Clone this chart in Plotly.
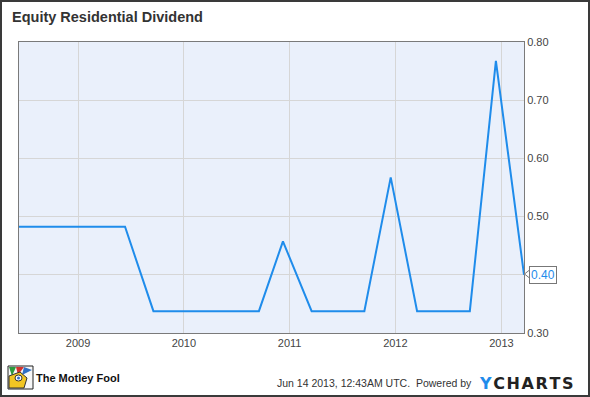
import plotly.graph_objects as go

# Data: quarterly dividend (ex-dividend dates) for Equity Residential
dates = ["2008-03-19", "2008-06-20", "2008-09-19", "2008-12-19", "2009-03-20", "2009-06-12",
         "2009-09-18", "2009-12-18", "2010-03-19", "2010-06-18", "2010-09-17", "2010-12-09",
         "2011-03-18", "2011-06-17", "2011-09-16", "2011-12-16", "2012-03-16", "2012-06-15",
         "2012-09-14", "2012-12-13", "2013-03-20"]
dividends = [0.4825, 0.4825, 0.4825, 0.4825, 0.4825, 0.4825,
             0.3375, 0.3375, 0.3375, 0.3375, 0.3375, 0.4575,
             0.3375, 0.3375, 0.3375, 0.5675, 0.3375, 0.3375,
             0.3375, 0.7675, 0.40]
y_ticks = [0.30, 0.40, 0.50, 0.60, 0.70, 0.80]
# the 0.40 tick label is covered by the last-value flag in the reference
y_tick_labels = ["0.30", "", "0.50", "0.60", "0.70", "0.80"]
title_text = "Equity Residential Dividend"
last_label = "0.40"

W, H = 590, 397
L, R, T, B = 19, 66, 42, 64
PW, PH = W - L - R, H - T - B

def px(x):
    return (x - L) / PW

def py(y):
    return (H - B - y) / PH

LINE = "#1f8ceb"

fig = go.Figure()
fig.add_trace(go.Scatter(x=dates, y=dividends, mode="lines",
                         line=dict(color=LINE, width=2), hoverinfo="skip",
                         showlegend=False))

fig.update_layout(
    width=W, height=H,
    margin=dict(l=L, r=R, t=T, b=B),
    paper_bgcolor="white",
    plot_bgcolor="#eaf0fb",
    font=dict(family="Liberation Sans, Arial, sans-serif", size=11, color="#444"),
    xaxis=dict(type="date", range=["2008-06-11", "2013-03-20"],
               tick0="2009-01-01", dtick="M12", tickformat="%Y",
               showgrid=True, gridcolor="#d6d6d6", gridwidth=1,
               showline=True, linecolor="#7a7a7a", linewidth=1, mirror=True,
               ticks="", zeroline=False, tickfont=dict(size=11, color="#444")),
    yaxis=dict(range=[0.30, 0.80], side="right", tickvals=y_ticks, ticktext=y_tick_labels,
               showgrid=True, gridcolor="#d6d6d6", gridwidth=1,
               showline=True, linecolor="#7a7a7a", linewidth=1, mirror=True,
               ticks="", zeroline=False, tickfont=dict(size=11, color="#444")),
)

hs = "\u200a"
annotations = [
    dict(text="<b>" + title_text + "</b>", xref="paper", yref="paper",
         x=px(10), y=py(17), xanchor="left", yanchor="middle", showarrow=False,
         font=dict(size=14.5, color="#333", family="Liberation Sans, Arial, sans-serif")),
    dict(text=last_label, x=dates[-1], y=dividends[-1], xref="x", yref="y",
         xanchor="left", yanchor="middle", xshift=5, showarrow=False,
         bgcolor="white", bordercolor="#777", borderwidth=1, borderpad=1,
         font=dict(size=12, color=LINE)),
    dict(text="<b>The Motley Fool</b>", xref="paper", yref="paper", x=px(34), y=py(378),
         xanchor="left", yanchor="middle", showarrow=False,
         font=dict(size=11, color="#111", family="Liberation Sans, Arial, sans-serif")),
    dict(text="Jun 14 2013, 12:43AM UTC.  Powered by", xref="paper", yref="paper",
         x=px(474), y=py(383), xanchor="right", yanchor="middle", showarrow=False,
         font=dict(size=10.5, color="#333")),
    dict(text="<b><span style='color:#1f8ceb'>Y</span>" + hs + hs.join("CHARTS") + "</b>",
         xref="paper", yref="paper",
         x=px(477), y=py(383), xanchor="left", yanchor="middle", showarrow=False,
         font=dict(size=16, color="#222", family="DejaVu Sans, sans-serif")),
]
fig.update_layout(annotations=annotations)

shapes = [
    # outer frame
    dict(type="rect", xref="paper", yref="paper", x0=px(1), x1=px(W - 1), y0=py(H - 1), y1=py(1),
         line=dict(color="#3a3a3a", width=2), fillcolor="rgba(0,0,0,0)", layer="above"),
    # motley fool logo approximation
    dict(type="rect", xref="paper", yref="paper", x0=px(8), x1=px(33), y0=py(389), y1=py(366),
         line=dict(color="#222", width=1), fillcolor="#f7f7f7"),
    dict(type="path", xref="paper", yref="paper",
         path=f"M {px(9)} {py(367)} L {px(16)} {py(367)} L {px(12)} {py(376)} Z",
         fillcolor="#2e9a3c", line=dict(width=0)),
    dict(type="path", xref="paper", yref="paper",
         path=f"M {px(16)} {py(367)} L {px(24)} {py(367)} L {px(18)} {py(375)} Z",
         fillcolor="#d2322d", line=dict(width=0)),
    dict(type="path", xref="paper", yref="paper",
         path=f"M {px(24)} {py(367)} L {px(32)} {py(370)} L {px(22)} {py(375)} Z",
         fillcolor="#2f6fc4", line=dict(width=0)),
    dict(type="path", xref="paper", yref="paper",
         path=f"M {px(9)} {py(388)} L {px(9)} {py(376)} L {px(20)} {py(372)} L {px(27)} {py(378)} L {px(24)} {py(388)} Z",
         fillcolor="#f2c623", line=dict(color="#333", width=1)),
    dict(type="circle", xref="paper", yref="paper", x0=px(15), x1=px(22), y0=py(381), y1=py(375),
         fillcolor="white", line=dict(color="#333", width=1)),
    dict(type="circle", xref="paper", yref="paper", x0=px(17), x1=px(20), y0=py(379.5), y1=py(376.5),
         fillcolor="#2f6fc4", line=dict(width=0)),
    # pointer on last-value label
    dict(type="path", xref="paper", yref="paper",
         path=f"M {px(524.5)} {py(274)} L {px(529.5)} {py(270)} L {px(529.5)} {py(278)} Z",
         fillcolor="white", line=dict(color="#777", width=1)),
]
fig.update_layout(shapes=shapes)

fig.write_html("out.html", config={"displayModeBar": False},
               post_script="document.body.style.margin='0px';")
